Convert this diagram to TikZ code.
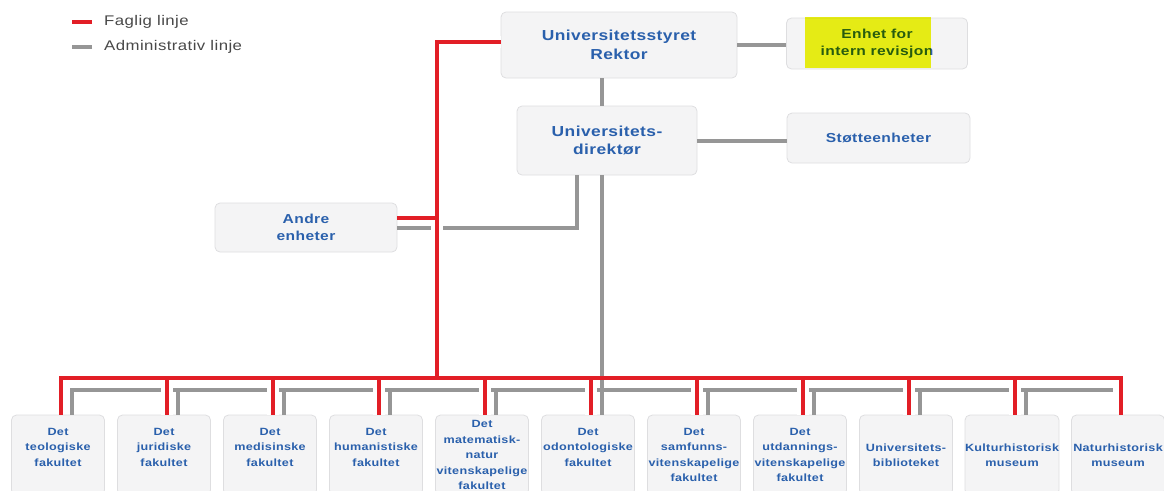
\documentclass[tikz,border=0pt]{standalone}
\usepackage{fontspec}
\setmainfont{Liberation Sans}[FakeStretch=1.2, LetterSpace=3]
\usetikzlibrary{calc}
\definecolor{FagligRed}{RGB}{226,30,38}
\definecolor{AdminGray}{RGB}{150,150,150}
\definecolor{UnitBlue}{RGB}{42,96,172}
\definecolor{BoxFill}{RGB}{244,244,245}
\definecolor{BoxLine}{RGB}{222,222,224}
\definecolor{LegendText}{RGB}{72,72,72}
\definecolor{MarkerYellow}{RGB}{240,246,22}

\begin{document}
\begin{tikzpicture}[x=1pt, y=-1pt,
    unit/.style={draw=BoxLine, line width=0.8pt, fill=BoxFill, rounded corners=5pt, align=center, text=UnitBlue, inner sep=0pt, font=\bfseries\fontsize{14.5}{18.5}\selectfont},
    small unit/.style={unit, font=\bfseries\fontsize{13}{16.5}\selectfont},
    faculty/.style={unit, minimum width=93pt, minimum height=80pt, font=\bfseries\fontsize{10.5}{15.5}\selectfont},
    legend/.style={anchor=west, inner sep=0pt, text=LegendText, font=\fontsize{14}{16}\selectfont},
    faglig/.style={draw=FagligRed, line width=4pt},
    admin/.style={draw=AdminGray, line width=4pt},
    crossgap/.style={preaction={draw=white, line width=12pt}}]
  \useasboundingbox (0,0) rectangle (1164,490);

  % legend
  \node[legend] (fagliglbl) at (104,22) {Faglig linje};
  \node[legend] (adminlbl) at (104,47) {Administrativ linje};
  \draw[faglig] ([xshift=-12pt]fagliglbl.west) -- ++(-20,0);
  \draw[admin] ([xshift=-12pt]adminlbl.west) -- ++(-20,0);

  % top units
  \node[unit, minimum width=236pt, minimum height=66pt] (rektor) at (619,45) {Universitetsstyret\\Rektor};
  \node[small unit, minimum width=181pt, minimum height=51pt] (revisjon) at (877,43.5) {Enhet for\\intern revisjon};
  \fill[MarkerYellow, blend mode=multiply] (805,17) rectangle (931,68);
  \node[unit, minimum width=180pt, minimum height=69pt] (direktor) at (607,140.5) {Universitets-\\direktør};
  \node[small unit, minimum width=183pt, minimum height=50pt] (stotte) at (878.5,138) {Støtteenheter};
  \node[small unit, minimum width=182pt, minimum height=49pt] (andre) at (306,227.5) {Andre\\enheter};

  % faculties and museums
  \foreach \fac/\txt [count=\i from 0] in {
      teol/{Det\\teologiske\\fakultet\\~},
      jur/{Det\\juridiske\\fakultet\\~},
      med/{Det\\medisinske\\fakultet\\~},
      hf/{Det\\humanistiske\\fakultet\\~},
      matnat/{Det\\matematisk-\\natur\\vitenskapelige\\fakultet},
      odont/{Det\\odontologiske\\fakultet\\~},
      sv/{Det\\samfunns-\\vitenskapelige\\fakultet},
      uv/{Det\\utdannings-\\vitenskapelige\\fakultet},
      ub/{Universitets-\\biblioteket},
      khm/{Kulturhistorisk\\museum},
      nhm/{Naturhistorisk\\museum}} {
    \node[faculty] (\fac) at ({58+106*\i},455) {\txt};
    \coordinate (rb-\fac) at ({61+106*\i},378);
    \coordinate (gb-\fac) at ({72+106*\i},390);
  }
  \coordinate (gbend) at (1113,390);
  \coordinate (fagligtop) at (437,42);
  \coordinate (fagligbus) at (437,378);
  \coordinate (andrejoin) at (437,218);
  \coordinate (andrebend) at (577,228);

  % administrative lines
  \draw[admin] (rektor.east) -- (rektor.east -| revisjon.west);
  \draw[admin] (direktor.east) -- (direktor.east -| stotte.west);
  \draw[admin] (rektor.south -| gb-odont) -- (direktor.north -| gb-odont);
  \draw[admin] (direktor.south -| gb-odont) -- (gb-odont);
  \draw[admin] (direktor.south -| andrebend) -- (andrebend) -- (andrebend -| andre.east);
  \draw[admin] (gb-teol |- teol.north) -- (gb-teol) -- (gbend);
  \foreach \fac in {jur,med,hf,matnat,odont,sv,uv,ub,khm}
    \draw[admin] (gb-\fac) -- (gb-\fac |- \fac.north);

  % faglig lines
  \draw[faglig, crossgap] (rektor.west |- fagligtop) -- (fagligtop) -- (fagligbus);
  \foreach \fac in {jur,med,hf,matnat,odont,sv,uv,ub,khm}
    \draw[faglig, crossgap] (rb-\fac) -- (rb-\fac |- \fac.north);
  \draw[faglig] (rb-teol |- teol.north) -- (rb-teol) -- (rb-nhm) -- (rb-nhm |- nhm.north);
  \draw[faglig] (andrejoin -| andre.east) -- (andrejoin);
\end{tikzpicture}
\end{document}
